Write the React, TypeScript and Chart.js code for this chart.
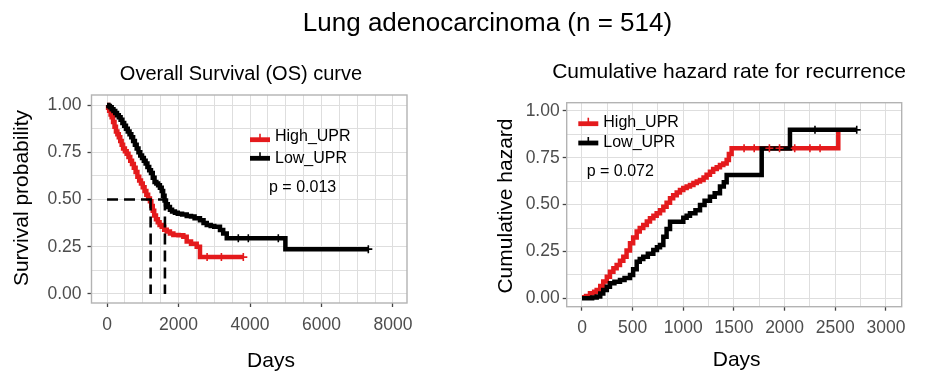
import React, { useEffect, useRef } from "react";
import { Chart, registerables } from "chart.js";
Chart.register(...registerables);

const FONT = "'Liberation Sans', Arial, Helvetica, sans-serif";
const RED = "#E41A1C";
const BLACK = "#000000";
const GRID = "#dedede";
const TICK_TEXT = "#4d4d4d";

// ---------- Overall survival (left) ----------
const osLowDays = [0, 40, 80, 130, 180, 230, 280, 330, 380, 430, 480, 530, 580, 630, 680, 730, 780, 830, 880, 930, 980, 1030, 1080, 1130, 1180, 1230, 1280, 1330, 1380, 1430, 1480, 1530, 1570, 1610, 1650, 1700, 1760, 1820, 1900, 1980, 2100, 2230, 2350, 2450, 2600, 2700, 2790, 2900, 3000, 3160, 3250, 3350, 4990, 7310];
const osLowSurv = [1, 0.995, 0.988, 0.978, 0.968, 0.958, 0.946, 0.935, 0.922, 0.905, 0.89, 0.875, 0.86, 0.845, 0.83, 0.81, 0.79, 0.77, 0.75, 0.733, 0.72, 0.705, 0.69, 0.672, 0.655, 0.64, 0.615, 0.592, 0.585, 0.575, 0.562, 0.545, 0.52, 0.495, 0.475, 0.46, 0.445, 0.436, 0.43, 0.425, 0.42, 0.413, 0.41, 0.4, 0.39, 0.375, 0.365, 0.36, 0.355, 0.339, 0.32, 0.295, 0.237, 0.237];
const osHighDays = [0, 30, 60, 100, 130, 170, 210, 250, 290, 330, 370, 410, 450, 500, 550, 600, 650, 700, 750, 800, 850, 900, 950, 1000, 1050, 1100, 1150, 1200, 1240, 1280, 1320, 1370, 1420, 1470, 1530, 1600, 1670, 1760, 1856, 2000, 2135, 2229, 2350, 2509, 2601, 3813];
const osHighSurv = [1, 0.985, 0.97, 0.95, 0.935, 0.91, 0.885, 0.86, 0.845, 0.83, 0.81, 0.79, 0.77, 0.755, 0.742, 0.725, 0.705, 0.688, 0.668, 0.645, 0.62, 0.6, 0.585, 0.565, 0.545, 0.525, 0.505, 0.49, 0.465, 0.44, 0.415, 0.395, 0.38, 0.365, 0.355, 0.34, 0.33, 0.32, 0.312, 0.31, 0.303, 0.277, 0.265, 0.25, 0.195, 0.195];
const osHighCensor = [2800, 3200, 3813];
const osLowCensor = [3673, 3953, 4792, 7310];
const osMedianDays = [1220, 1620]; // High_UPR, Low_UPR
const osXGrid = [0, 500, 1000, 1500, 2000, 2500, 3000, 3500, 4000, 4500, 5000, 5500, 6000, 6500, 7000, 7500, 8000];
const osXLabels = [0, 2000, 4000, 6000, 8000];
const yGrid = [0, 0.125, 0.25, 0.375, 0.5, 0.625, 0.75, 0.875, 1];
const yLabels = [0, 0.25, 0.5, 0.75, 1];
const osPValue = "p = 0.013";

// ---------- Cumulative hazard (right) ----------
const hzHighDays = [0, 40, 79, 120, 145, 180, 210, 245, 276, 310, 342, 375, 408, 440, 474, 505, 540, 570, 605, 640, 671, 705, 737, 770, 803, 835, 869, 900, 935, 967, 1000, 1033, 1066, 1100, 1133, 1165, 1200, 1230, 1263, 1295, 1330, 1362, 1395, 1428, 1450, 1477, 2530];
const hzHighHaz = [0.005, 0.012, 0.027, 0.035, 0.044, 0.065, 0.089, 0.115, 0.142, 0.16, 0.178, 0.2, 0.222, 0.255, 0.294, 0.325, 0.356, 0.375, 0.391, 0.41, 0.427, 0.44, 0.454, 0.47, 0.489, 0.51, 0.534, 0.55, 0.565, 0.578, 0.588, 0.597, 0.605, 0.615, 0.623, 0.632, 0.645, 0.66, 0.676, 0.69, 0.7, 0.712, 0.72, 0.738, 0.77, 0.801, 0.905];
const hzLowDays = [0, 100, 145, 180, 210, 245, 276, 320, 375, 420, 474, 505, 540, 570, 605, 650, 704, 740, 770, 803, 835, 869, 1000, 1033, 1066, 1120, 1165, 1210, 1263, 1310, 1362, 1400, 1428, 1774, 2053, 2712];
const hzLowHaz = [0, 0.004, 0.009, 0.025, 0.044, 0.062, 0.08, 0.088, 0.098, 0.108, 0.124, 0.155, 0.195, 0.21, 0.222, 0.238, 0.258, 0.272, 0.285, 0.329, 0.37, 0.409, 0.43, 0.44, 0.454, 0.47, 0.498, 0.52, 0.542, 0.56, 0.596, 0.62, 0.658, 0.8, 0.899, 0.899];
const hzHighCensor = [1600, 1700, 1850, 1950, 2100, 2250, 2350];
const hzLowCensor = [2300, 2712];
const hzXGrid = [0, 250, 500, 750, 1000, 1250, 1500, 1750, 2000, 2250, 2500, 2750, 3000];
const hzXLabels = [0, 500, 1000, 1500, 2000, 2500, 3000];
const hzPValue = "p = 0.072";

const groupNames = ["High_UPR", "Low_UPR"];

function stepValue(days: number[], vals: number[], t: number) {
  let v = vals[0];
  for (let i = 0; i < days.length; i++) if (days[i] <= t) v = vals[i];
  return v;
}
const pts = (xs: number[], ys: number[]) => xs.map((x, i) => ({ x, y: ys[i] }));

function curve(days: number[], vals: number[], color: string) {
  return {
    data: pts(days, vals),
    borderColor: color,
    backgroundColor: color,
    borderWidth: 4.5,
    stepped: true,
    pointRadius: 0,
    fill: false,
    borderJoinStyle: "miter",
    borderCapStyle: "butt",
  } as any;
}
function censor(days: number[], vals: number[], times: number[], color: string) {
  return {
    data: times.map((t) => ({ x: t, y: stepValue(days, vals, t) })),
    showLine: false,
    pointStyle: "cross",
    pointRadius: 4,
    borderWidth: 1.6,
    borderColor: color,
    backgroundColor: color,
  } as any;
}
function dashed(a: { x: number; y: number }, b: { x: number; y: number }) {
  return {
    data: [a, b],
    borderColor: BLACK,
    borderWidth: 2.6,
    borderDash: [11, 6],
    pointRadius: 0,
    fill: false,
  } as any;
}

type TextItem = { text: string; x: number; y: number; size: number; align?: CanvasTextAlign; rotate?: boolean; color?: string };
type LegendItem = { color: string; x1: number; x2: number; y: number };

function decorPlugin(texts: TextItem[], legend: LegendItem[]) {
  return {
    id: "decor",
    afterDatasetsDraw(chart: any) {
      const { ctx, chartArea } = chart;
      ctx.save();
      ctx.strokeStyle = "#b3b3b3";
      ctx.lineWidth = 1.4;
      ctx.strokeRect(chartArea.left, chartArea.top, chartArea.right - chartArea.left, chartArea.bottom - chartArea.top);
      ctx.restore();
    },
    afterDraw(chart: any) {
      const ctx = chart.ctx as CanvasRenderingContext2D;
      ctx.save();
      for (const l of legend) {
        ctx.strokeStyle = l.color;
        ctx.lineWidth = 4.8;
        ctx.lineCap = "butt";
        ctx.beginPath();
        ctx.moveTo(l.x1, l.y);
        ctx.lineTo(l.x2, l.y);
        ctx.stroke();
        ctx.lineWidth = 1.6;
        const cx = (l.x1 + l.x2) / 2;
        ctx.beginPath();
        ctx.moveTo(cx, l.y - 6);
        ctx.lineTo(cx, l.y);
        ctx.stroke();
      }
      for (const t of texts) {
        ctx.save();
        ctx.font = `${t.size}px ${FONT}`;
        ctx.fillStyle = t.color || "#000";
        ctx.textAlign = t.align || "center";
        ctx.textBaseline = "alphabetic";
        ctx.translate(t.x, t.y);
        if (t.rotate) ctx.rotate(-Math.PI / 2);
        ctx.fillText(t.text, 0, 0);
        ctx.restore();
      }
      ctx.restore();
    },
  };
}

function axes(opts: {
  xMin: number; xMax: number; yMin: number; yMax: number;
  xGrid: number[]; xLabels: number[]; yW: number; xH: number; yPad: number; xPad: number;
}) {
  const isIn = (arr: number[], v: number) => arr.some((a) => Math.abs(a - v) < 1e-9);
  return {
    x: {
      type: "linear",
      min: opts.xMin,
      max: opts.xMax,
      afterBuildTicks: (s: any) => { s.ticks = opts.xGrid.map((v) => ({ value: v })); },
      afterFit: (s: any) => { s.height = opts.xH; },
      grid: {
        color: GRID,
        lineWidth: 1,
        drawTicks: true,
        tickLength: 4,
        tickWidth: 1.3,
        tickColor: (c: any) => (c.tick && isIn(opts.xLabels, c.tick.value) ? "#444" : "rgba(0,0,0,0)"),
      },
      border: { display: false },
      ticks: {
        autoSkip: false,
        maxRotation: 0,
        padding: opts.xPad,
        color: TICK_TEXT,
        font: { family: FONT, size: 17.5 },
        callback: (v: any) => (isIn(opts.xLabels, v) ? String(v) : ""),
      },
    },
    y: {
      type: "linear",
      min: opts.yMin,
      max: opts.yMax,
      afterBuildTicks: (s: any) => { s.ticks = yGrid.map((v) => ({ value: v })); },
      afterFit: (s: any) => { s.width = opts.yW; },
      grid: {
        color: GRID,
        lineWidth: 1,
        drawTicks: true,
        tickLength: 4,
        tickWidth: 1.3,
        tickColor: (c: any) => (c.tick && isIn(yLabels, c.tick.value) ? "#444" : "rgba(0,0,0,0)"),
      },
      border: { display: false },
      ticks: {
        autoSkip: false,
        padding: opts.yPad,
        color: TICK_TEXT,
        font: { family: FONT, size: 17.5 },
        callback: (v: any) => (isIn(yLabels, v) ? Number(v).toFixed(2) : ""),
      },
    },
  } as any;
}

const W = 925;
const H = 376;

export default function App() {
  const leftRef = useRef<HTMLCanvasElement>(null);
  const rightRef = useRef<HTMLCanvasElement>(null);

  useEffect(() => {
    const common = {
      animation: false,
      responsive: false,
      devicePixelRatio: 1,
      events: [],
      plugins: { legend: { display: false }, tooltip: { enabled: false }, title: { display: false } },
    };

    const leftChart = new Chart(leftRef.current as HTMLCanvasElement, {
      type: "line",
      data: {
        datasets: [
          censor(osLowDays, osLowSurv, osLowCensor, BLACK),
          censor(osHighDays, osHighSurv, osHighCensor, RED),
          dashed({ x: 0, y: 0.5 }, { x: osMedianDays[1], y: 0.5 }),
          dashed({ x: osMedianDays[0], y: 0.5 }, { x: osMedianDays[0], y: 0 }),
          dashed({ x: osMedianDays[1], y: 0.5 }, { x: osMedianDays[1], y: 0 }),
          curve(osLowDays, osLowSurv, BLACK),
          curve(osHighDays, osHighSurv, RED),
        ],
      },
      options: {
        ...common,
        layout: { padding: { left: 10, top: 95, right: W - 407, bottom: 0 } },
        scales: axes({ xMin: -434, xMax: 8392, yMin: -0.048, yMax: 1.053, xGrid: osXGrid, xLabels: osXLabels, yW: 81.5, xH: H - 303, yPad: 6, xPad: 8 }),
      } as any,
      plugins: [
        decorPlugin(
          [
            { text: "Lung adenocarcinoma (n = 514)", x: 487.5, y: 30.5, size: 26 },
            { text: "Overall Survival (OS) curve", x: 241, y: 80, size: 20 },
            { text: "Days", x: 271, y: 367, size: 21 },
            { text: "Survival probability", x: 28, y: 198, size: 21, rotate: true },
            { text: groupNames[0], x: 275, y: 140.7, size: 16, align: "left" },
            { text: groupNames[1], x: 275, y: 162.7, size: 16, align: "left" },
            { text: osPValue, x: 269, y: 191.7, size: 16, align: "left" },
          ],
          [
            { color: RED, x1: 250, x2: 270, y: 139.7 },
            { color: BLACK, x1: 250, x2: 270, y: 158.3 },
          ]
        ),
      ],
    });

    const rightChart = new Chart(rightRef.current as HTMLCanvasElement, {
      type: "line",
      data: {
        datasets: [
          censor(hzLowDays, hzLowHaz, hzLowCensor, BLACK),
          censor(hzHighDays, hzHighHaz, hzHighCensor, RED),
          curve(hzLowDays, hzLowHaz, BLACK),
          curve(hzHighDays, hzHighHaz, RED),
        ],
      },
      options: {
        ...common,
        layout: { padding: { left: 480, top: 102.7, right: W - 901.7, bottom: 0 } },
        scales: axes({ xMin: -151, xMax: 3156, yMin: -0.045, yMax: 1.044, xGrid: hzXGrid, xLabels: hzXLabels, yW: 86.7, xH: H - 306.7, yPad: 3, xPad: 7 }),
      } as any,
      plugins: [
        decorPlugin(
          [
            { text: "Cumulative hazard rate for recurrence", x: 729, y: 78, size: 21 },
            { text: "Days", x: 736.7, y: 366, size: 21 },
            { text: "Cumulative hazard", x: 511.7, y: 206, size: 21, rotate: true },
            { text: groupNames[0], x: 603.3, y: 126.7, size: 16, align: "left" },
            { text: groupNames[1], x: 603.3, y: 146.7, size: 16, align: "left" },
            { text: hzPValue, x: 586.7, y: 176, size: 16, align: "left" },
          ],
          [
            { color: RED, x1: 578.3, x2: 598.3, y: 123.7 },
            { color: BLACK, x1: 578.3, x2: 598.3, y: 143 },
          ]
        ),
      ],
    });

    return () => {
      leftChart.destroy();
      rightChart.destroy();
    };
  }, []);

  const canvasStyle: React.CSSProperties = { position: "absolute", left: 0, top: 0, width: W, height: H };
  return (
    <div style={{ position: "absolute", left: 0, top: 0, width: W, height: H, background: "#fff", overflow: "hidden" }}>
      <canvas ref={leftRef} width={W} height={H} style={canvasStyle} />
      <canvas ref={rightRef} width={W} height={H} style={canvasStyle} />
    </div>
  );
}
